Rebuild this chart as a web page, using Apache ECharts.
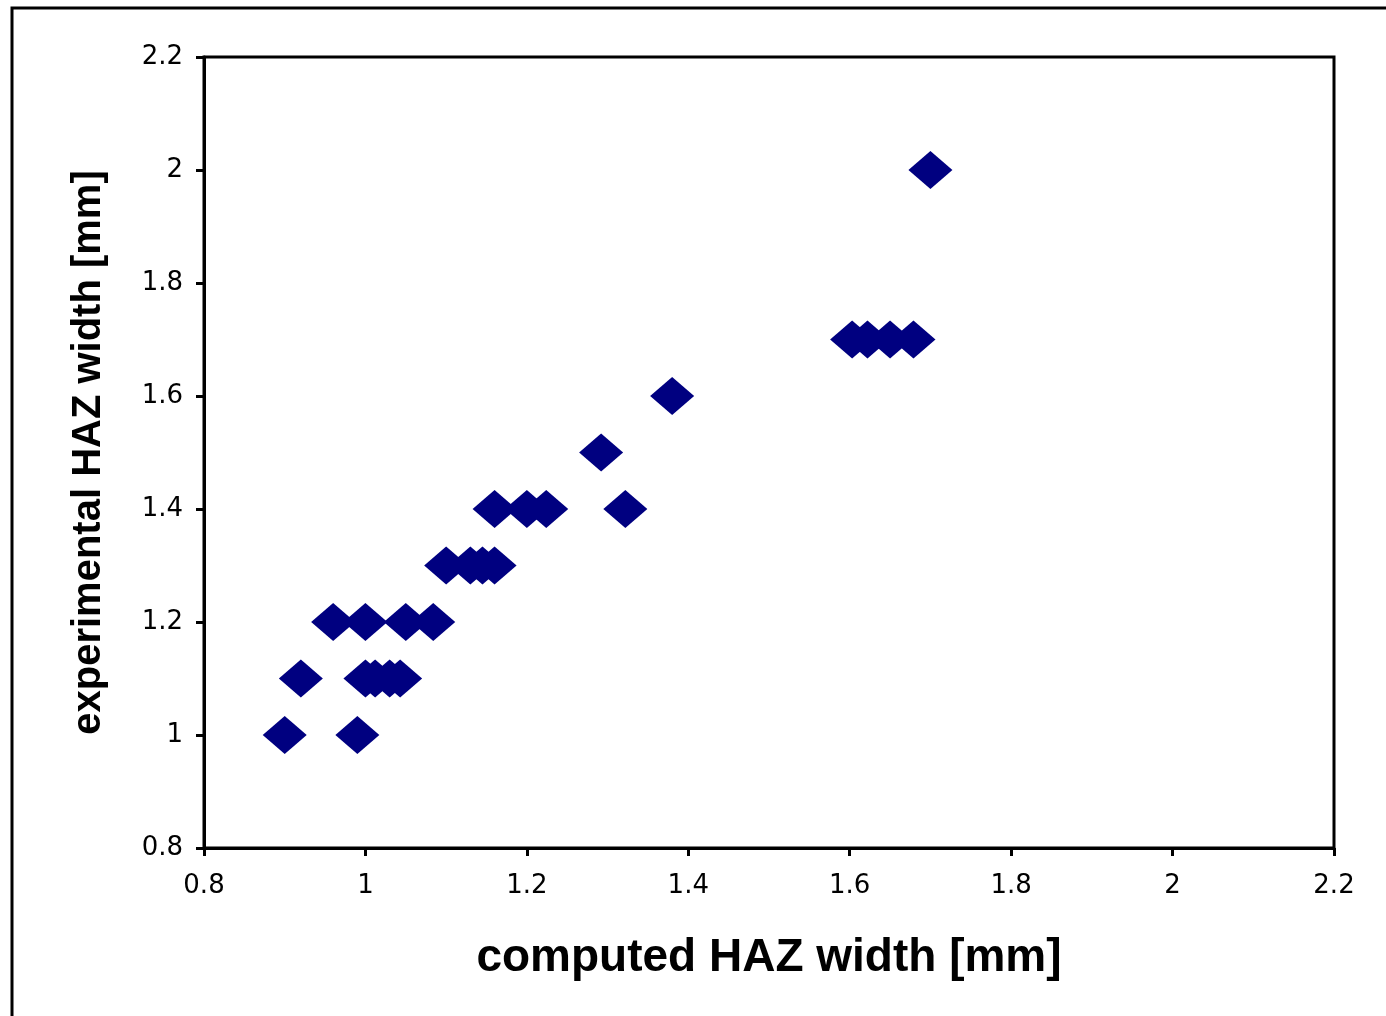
<!DOCTYPE html>
<html>
<head>
<meta charset="utf-8">
<title>HAZ width</title>
<script src="https://cdn.jsdelivr.net/npm/echarts@6/dist/echarts.min.js"></script>
<style>
    html, body { margin: 0; padding: 0; background: #fff; }
    #chart { width: 1386px; height: 1016px; }
</style>
</head>
<body>
<div id="chart"></div>
<script>
// 数据
var computedWidth = [0.90, 0.99,
    0.92, 1.00, 1.012, 1.03, 1.043,
    0.96, 1.00, 1.05, 1.084,
    1.10, 1.13, 1.145, 1.16,
    1.16, 1.20, 1.224, 1.322,
    1.292,
    1.38,
    1.603, 1.622, 1.65, 1.679,
    1.70];
var experimentalWidth = [1.0, 1.0,
    1.1, 1.1, 1.1, 1.1, 1.1,
    1.2, 1.2, 1.2, 1.2,
    1.3, 1.3, 1.3, 1.3,
    1.4, 1.4, 1.4, 1.4,
    1.5,
    1.6,
    1.7, 1.7, 1.7, 1.7,
    2.0];
var xTitle = 'computed HAZ width [mm]';
var yTitle = 'experimental HAZ width [mm]';

var points = [];
for (var i = 0; i < computedWidth.length; i++) {
    points.push([computedWidth[i], experimentalWidth[i]]);
}

var chart = echarts.init(document.getElementById('chart'), null, { renderer: 'canvas' });
var labelStyle = {
    color: '#000',
    fontFamily: 'DejaVu Sans',
    fontSize: 26
};
var option = {
    animation: false,
    backgroundColor: '#fff',
    graphic: [{
        type: 'rect',
        shape: { x: 12, y: 8, width: 1500, height: 1200 },
        style: { fill: 'none', stroke: '#000', lineWidth: 3 },
        silent: true
    }],
    grid: {
        left: 204,
        top: 57,
        right: 52,
        bottom: 168,
        show: true,
        borderColor: '#000',
        borderWidth: 3,
        backgroundColor: 'transparent'
    },
    xAxis: {
        type: 'value',
        min: 0.8,
        max: 2.2,
        interval: 0.2,
        name: xTitle,
        nameLocation: 'middle',
        nameGap: 87,
        nameTextStyle: {
            color: '#000',
            fontFamily: 'Liberation Sans',
            fontWeight: 'bold',
            fontSize: 46
        },
        axisLine: { onZero: false, lineStyle: { color: '#000', width: 3 } },
        axisTick: { inside: false, length: 8, lineStyle: { color: '#000', width: 3 } },
        axisLabel: Object.assign({ margin: 25 }, labelStyle),
        splitLine: { show: false }
    },
    yAxis: {
        type: 'value',
        min: 0.8,
        max: 2.2,
        interval: 0.2,
        name: yTitle,
        nameLocation: 'middle',
        nameGap: 95,
        nameTextStyle: {
            color: '#000',
            fontFamily: 'Liberation Sans',
            fontWeight: 'bold',
            fontSize: 40
        },
        axisLine: { onZero: false, lineStyle: { color: '#000', width: 3 } },
        axisTick: { inside: false, length: 8, lineStyle: { color: '#000', width: 3 } },
        axisLabel: Object.assign({ margin: 21 }, labelStyle),
        splitLine: { show: false }
    },
    series: [{
        type: 'scatter',
        symbol: 'diamond',
        symbolSize: [44, 38],
        itemStyle: { color: '#000080', opacity: 1 },
        data: points
    }]
};
chart.setOption(option);
</script>
</body>
</html>
